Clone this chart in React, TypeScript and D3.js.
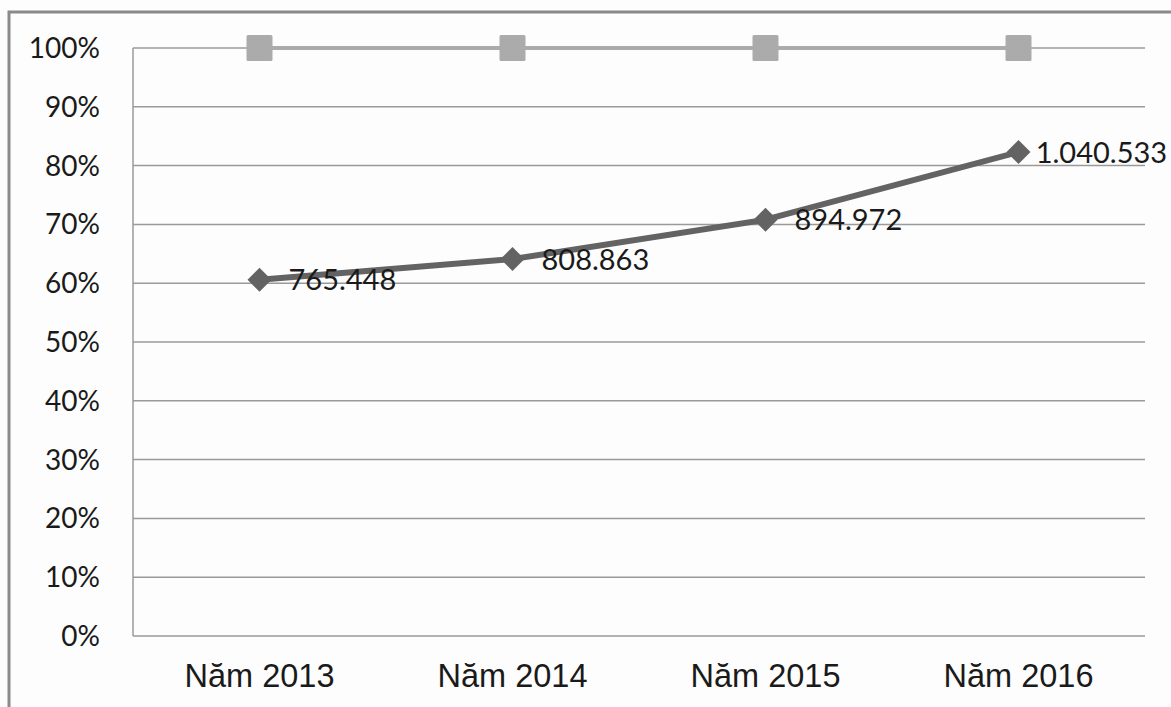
import * as d3 from 'd3'

const years = ['Năm 2013', 'Năm 2014', 'Năm 2015', 'Năm 2016']
const shareValues = [60.6, 64.1, 70.8, 82.3]
const shareLabels = ['765.448', '808.863', '894.972', '1.040.533']
const totalValues = [100, 100, 100, 100]
const yTicks = [0, 10, 20, 30, 40, 50, 60, 70, 80, 90, 100]

const W = 1171
const H = 707

function App() {
  const margin = { top: 48, right: 26, bottom: 71, left: 133 }
  const x = d3.scaleBand().domain(years).range([margin.left, W - margin.right])
  const y = d3.scaleLinear().domain([0, 100]).range([H - margin.bottom, margin.top])
  const cx = (d: string) => (x(d) as number) + x.bandwidth() / 2

  const line = d3.line<number>().x((_, i) => cx(years[i])).y(v => y(v))
  const labelFont = 'Lato, "Open Sans", sans-serif'
  const gridColor = '#9a9a9a'

  // rough label widths so the last label stays inside the picture
  const labelW = (s: string) => s.length * 14.7

  return (
    <div style={{ position: 'fixed', left: 0, top: 0 }}>
      <svg width={W} height={H} style={{ display: 'block', background: '#fdfdfd' }}>
        {/* outer frame (only top & left visible) */}
        <path d={`M9,${H} V12 H${W}`} fill="none" stroke="#8a8a8a" strokeWidth={3} />

        {/* grid */}
        {yTicks.map(t => (
          <g key={t}>
            <line x1={margin.left} x2={W - margin.right} y1={y(t)} y2={y(t)}
              stroke={gridColor} strokeWidth={1.5} />
            <text x={100} y={y(t)} dy="0.36em" textAnchor="end" fontFamily={labelFont}
              fontSize={28} fill="#1a1a1a">{t}%</text>
          </g>
        ))}
        <line x1={margin.left} x2={margin.left} y1={y(100)} y2={y(0)} stroke={gridColor} strokeWidth={1.5} />

        {/* categories */}
        {years.map(d => (
          <text key={d} x={cx(d)} y={687} textAnchor="middle"
            fontFamily='"Liberation Sans", Arial, sans-serif' fontSize={32.5} fill="#1a1a1a">{d}</text>
        ))}

        {/* 100% series */}
        <path d={line(totalValues) as string} fill="none" stroke="#ababab" strokeWidth={4} />
        {totalValues.map((v, i) => (
          <rect key={i} x={cx(years[i]) - 13} y={y(v) - 13} width={26} height={26} rx={1.5} fill="#ababab" />
        ))}

        {/* share series */}
        <path d={line(shareValues) as string} fill="none" stroke="#636363" strokeWidth={6} strokeLinejoin="round" />
        {shareValues.map((v, i) => {
          const px = cx(years[i])
          const py = y(v)
          return (
            <path key={i} d={`M${px},${py - 12} L${px + 12},${py} L${px},${py + 12} L${px - 12},${py} Z`} fill="#636363" />
          )
        })}
        {shareValues.map((v, i) => {
          const lx = Math.min(cx(years[i]) + 29, W - 3 - labelW(shareLabels[i]))
          return (
            <text key={i} x={lx} y={y(v)} dy="0.36em" fontFamily={labelFont} fontSize={29}
              fill="#1a1a1a">{shareLabels[i]}</text>
          )
        })}
      </svg>
    </div>
  )
}

export default App
